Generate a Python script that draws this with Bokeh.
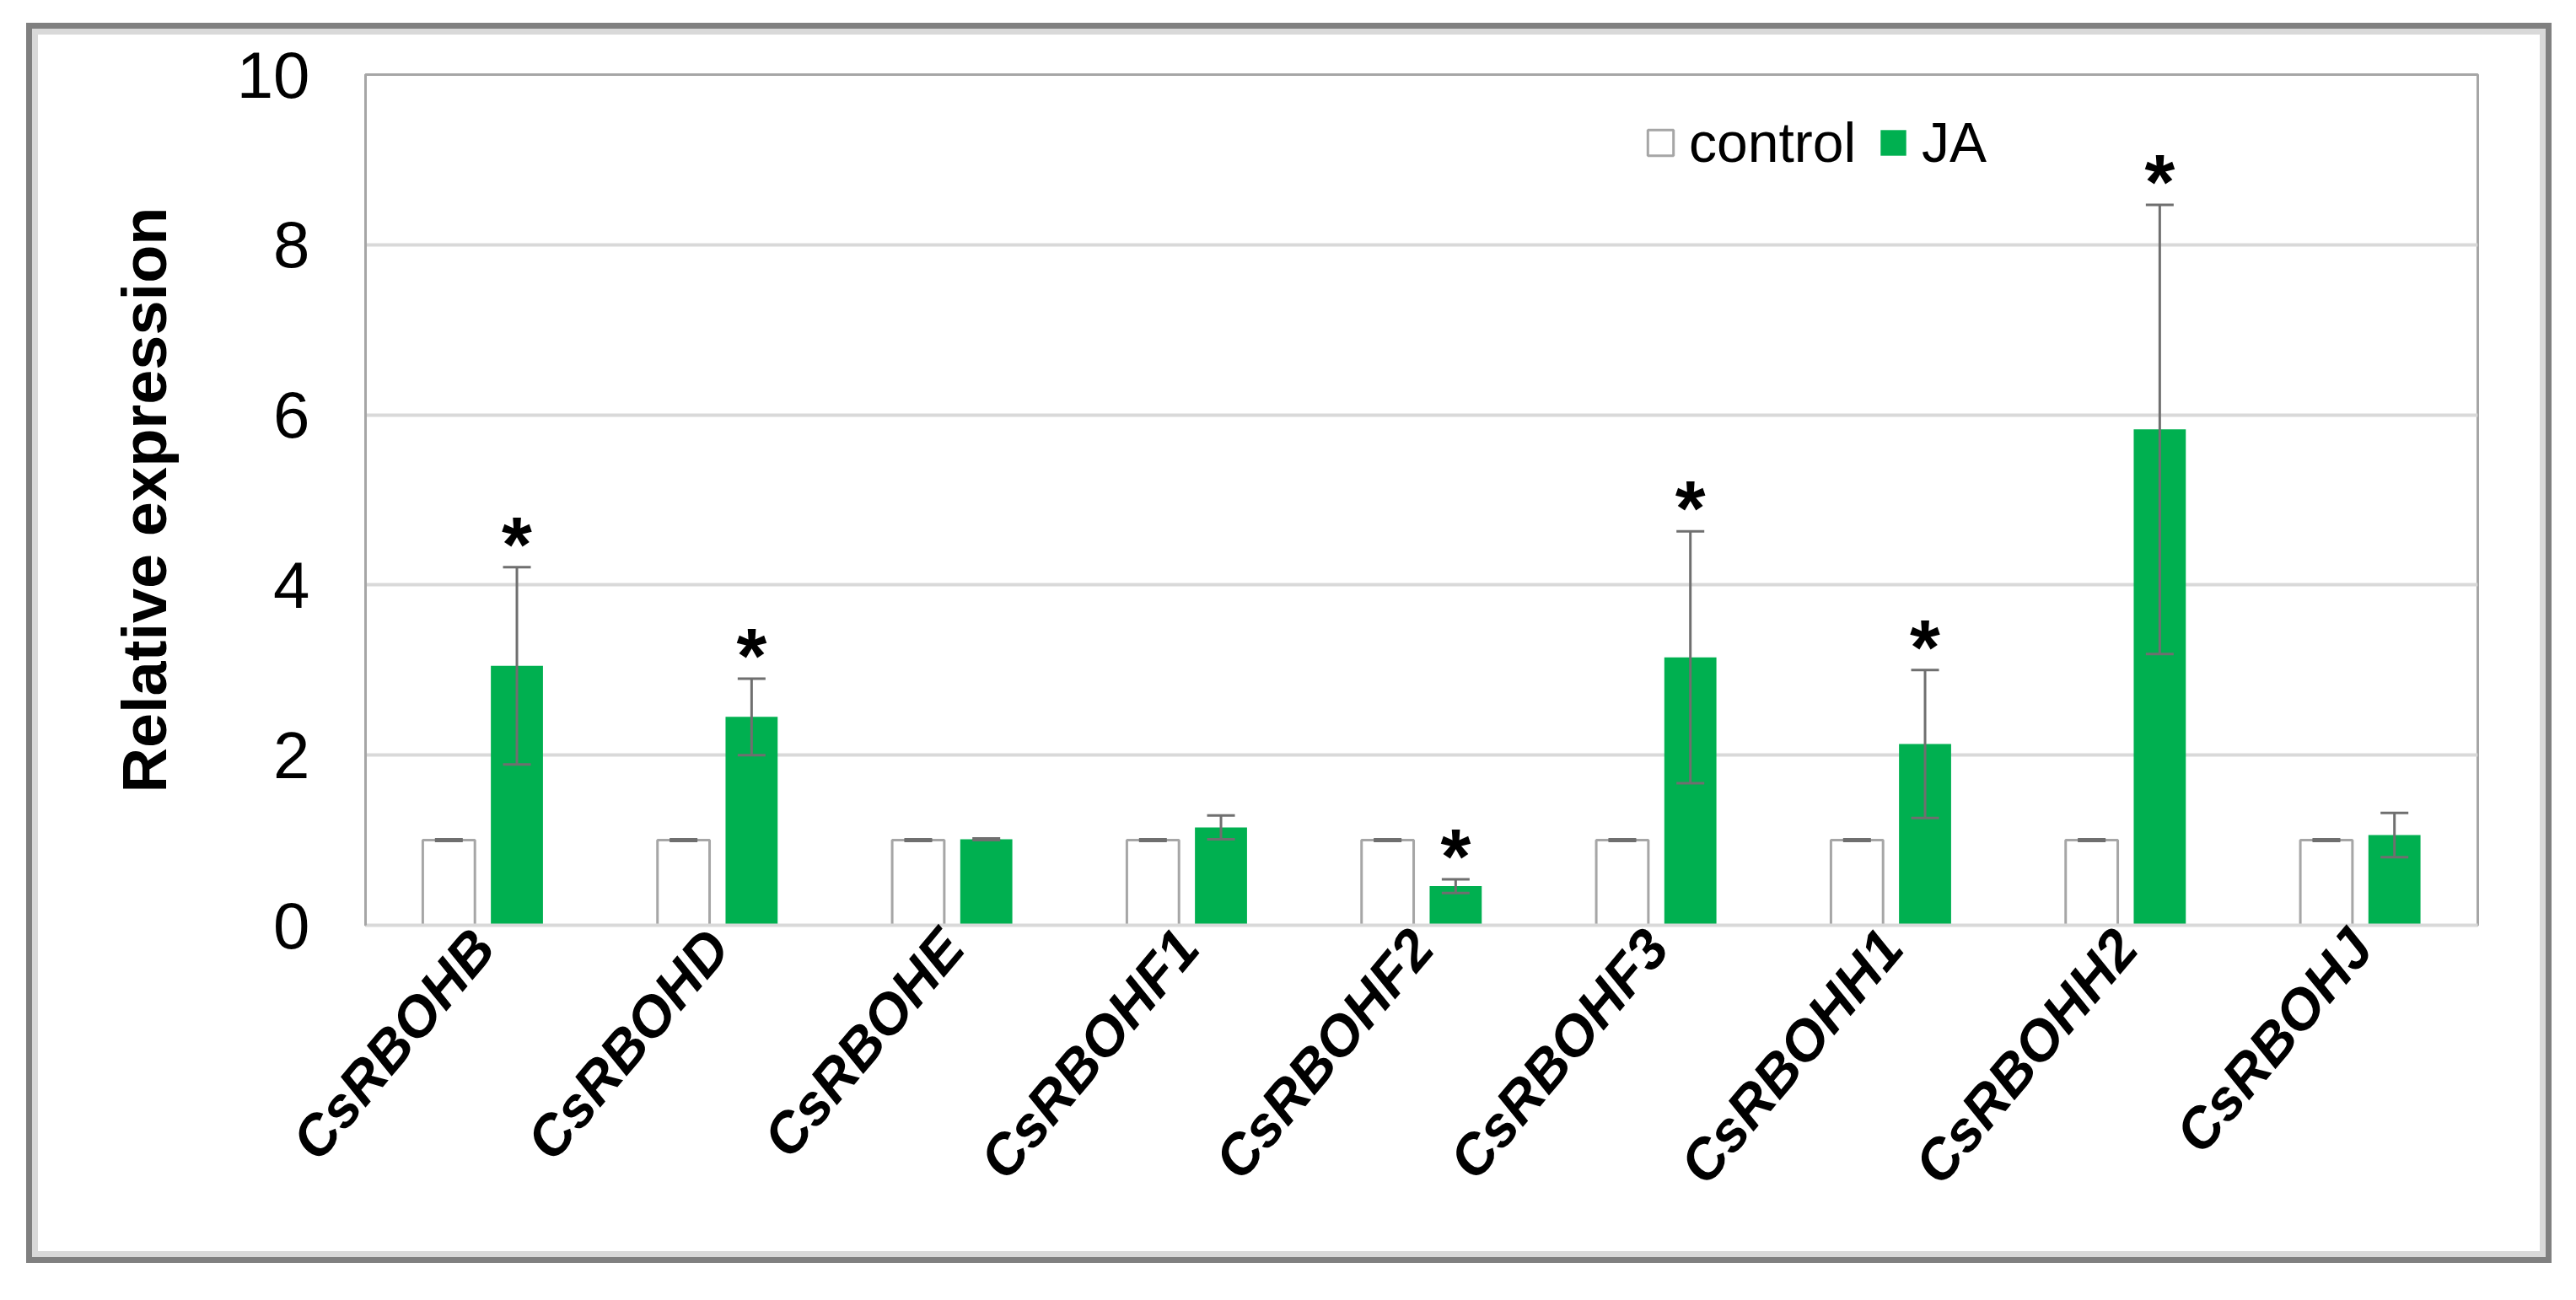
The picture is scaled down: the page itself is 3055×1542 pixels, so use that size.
import math
from bokeh.plotting import figure
from bokeh.models import (FactorRange, Range1d, ColumnDataSource, Whisker, TeeHead,
                          Legend, LegendItem, FixedTicker)
from bokeh.transform import dodge
from bokeh.core.properties import value
from bokeh.embed import file_html
from bokeh.resources import INLINE

# ---------------- data ----------------
genes = ["CsRBOHB", "CsRBOHD", "CsRBOHE", "CsRBOHF1", "CsRBOHF2",
         "CsRBOHF3", "CsRBOHH1", "CsRBOHH2", "CsRBOHJ"]
control = [1.0, 1.0, 1.0, 1.0, 1.0, 1.0, 1.0, 1.0, 1.0]
control_err = [0.01, 0.01, 0.01, 0.01, 0.01, 0.01, 0.01, 0.01, 0.01]
ja = [3.05, 2.45, 1.01, 1.15, 0.46, 3.15, 2.13, 5.83, 1.06]
ja_err = [1.16, 0.45, 0.01, 0.14, 0.08, 1.48, 0.87, 2.64, 0.26]
significant = [True, True, False, False, True, True, True, True, False]
y_ticks = [0, 2, 4, 6, 8, 10]
series_names = ["control", "JA"]

GREEN = "#00B050"
FONT = "Liberation Sans"

src = ColumnDataSource(dict(
    cat=genes,
    control=control,
    c_up=[v + e for v, e in zip(control, control_err)],
    c_lo=[v - e for v, e in zip(control, control_err)],
    ja=ja,
    j_up=[v + e for v, e in zip(ja, ja_err)],
    j_lo=[v - e for v, e in zip(ja, ja_err)],
))
star_src = ColumnDataSource(dict(
    cat=[g for g, s in zip(genes, significant) if s],
    y=[v + e for v, e, s in zip(ja, ja_err, significant) if s],
    t=["*" for s in significant if s],
))

W, H = 2967, 1443
p = figure(width=W, height=H, output_backend="svg", toolbar_location=None,
           x_range=FactorRange(*genes, range_padding=0, factor_padding=0),
           y_range=Range1d(0, 10),
           min_border_left=388, min_border_right=74,
           min_border_top=47, min_border_bottom=387)
p.styles = {"margin-left": "45px", "margin-top": "41px",
            "box-shadow": "0 0 0 7px #d9d9d9, 0 0 0 14px #808080"}

OFF = 0.145
BW = 0.222

r_ctrl = p.vbar(x=dodge("cat", -OFF, range=p.x_range), top="control", width=BW,
                source=src, fill_color="white", line_color="#a6a6a6", line_width=3)
r_ja = p.vbar(x=dodge("cat", OFF, range=p.x_range), top="ja", width=BW,
              source=src, fill_color=GREEN, line_color=None)

for base, up, lo in ((dodge("cat", -OFF, range=p.x_range), "c_up", "c_lo"),
                     (dodge("cat", OFF, range=p.x_range), "j_up", "j_lo")):
    w = Whisker(base=base, upper=up, lower=lo, source=src, level="annotation",
                line_color="#6f6f6f", line_width=3,
                upper_head=TeeHead(size=33, line_color="#6f6f6f", line_width=3),
                lower_head=TeeHead(size=33, line_color="#6f6f6f", line_width=3))
    p.add_layout(w)

p.text(x=dodge("cat", OFF, range=p.x_range), y="y", text="t", source=star_src,
       text_font=value(FONT), text_font_style="bold", text_font_size="92px",
       text_align="center", text_baseline="alphabetic", y_offset=-27,
       text_color="black")

# axes
p.yaxis.ticker = FixedTicker(ticks=y_ticks)
p.yaxis.axis_label = "Relative expression"
p.yaxis.axis_label_text_font = FONT
p.yaxis.axis_label_text_font_style = "bold"
p.yaxis.axis_label_text_font_size = "74px"
p.yaxis.axis_label_text_color = "black"
p.yaxis.axis_label_standoff = 65
p.yaxis.major_label_text_font = FONT
p.yaxis.major_label_text_font_size = "78px"
p.yaxis.major_label_text_color = "black"
p.yaxis.major_label_standoff = 60
p.yaxis.major_tick_line_color = None
p.yaxis.minor_tick_line_color = None
p.yaxis.axis_line_color = "#a6a6a6"
p.yaxis.axis_line_width = 3

p.xaxis.major_label_text_font = FONT
p.xaxis.major_label_text_font_style = "bold italic"
p.xaxis.major_label_text_font_size = "67px"
p.xaxis.major_label_text_color = "black"
p.xaxis.major_label_orientation = math.radians(50)
p.xaxis.major_label_standoff = 8
p.xaxis.major_tick_line_color = None
p.xaxis.minor_tick_line_color = None
p.xaxis.axis_line_color = "#d9d9d9"
p.xaxis.axis_line_width = 4

p.xgrid.grid_line_color = None
p.ygrid.grid_line_color = "#d9d9d9"
p.ygrid.grid_line_width = 4
p.outline_line_color = "#a6a6a6"
p.outline_line_width = 3
p.background_fill_color = "white"
p.border_fill_color = "white"

legend = Legend(items=[LegendItem(label=series_names[0], renderers=[r_ctrl]),
                       LegendItem(label=series_names[1], renderers=[r_ja])],
                orientation="horizontal", location=(1517, 890),
                glyph_width=38, glyph_height=38, label_standoff=15, spacing=25,
                padding=0, margin=0, border_line_color=None,
                background_fill_alpha=0,
                label_text_font=FONT, label_text_font_size="66px",
                label_text_color="black")
p.add_layout(legend)

open("out.html", "w").write(file_html(p, INLINE))
